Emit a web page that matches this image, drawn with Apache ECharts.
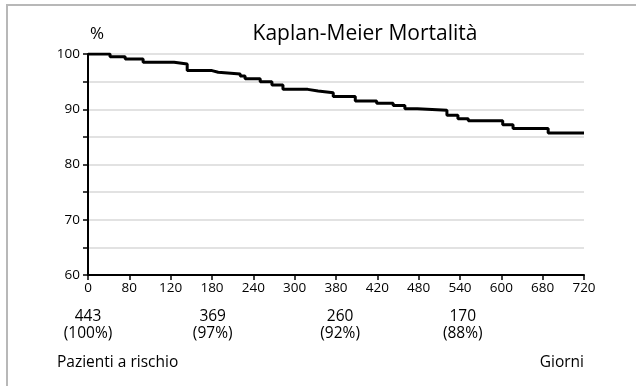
<!DOCTYPE html>
<html>
<head>
<meta charset="utf-8">
<script src="https://cdn.jsdelivr.net/npm/echarts@6/dist/echarts.min.js"></script>
<style>
html,body{margin:0;padding:0;background:#fff;}
#c{width:636px;height:386px;}
</style>
</head>
<body>
<div id="c"></div>
<script>
// Kaplan-Meier step data (day of event, survival % after event)
const kmDays = [0, 32, 54, 80, 125, 144, 180, 189, 221, 228, 250, 267, 283, 319, 334, 356, 388, 419, 443, 460, 478, 521, 537, 552, 602, 617, 668, 720];
const kmSurv = [100, 99.5, 99.1, 98.5, 98.2, 97.0, 96.7, 96.4, 96.0, 95.5, 95.0, 94.4, 93.6, 93.3, 93.0, 92.3, 91.5, 91.1, 90.7, 90.1, 89.8, 88.9, 88.3, 87.9, 87.2, 86.5, 85.7, 85.7];
// x tick labels as printed on the axis (equally spaced)
const xTickLabels = ['0', '80', '120', '180', '240', '300', '380', '420', '480', '540', '600', '680', '720'];
// patients at risk
const riskDays = [0, 181, 366, 544];
const riskCount = ['443', '369', '260', '170'];
const riskPct = ['(100%)', '(97%)', '(92%)', '(88%)'];

const FONT = '"Open Sans", "Noto Sans", sans-serif';
const chart = echarts.init(document.getElementById('c'), null, {renderer: 'canvas'});

const kmData = kmDays.map((d, i) => [d, kmSurv[i]]);
const riskData = riskDays.map((d, i) => [d, 0.5, riskCount[i], riskPct[i]]);

chart.setOption({
  animation: false,
  backgroundColor: '#fff',
  textStyle: {fontFamily: FONT},
  graphic: [
    {type: 'rect', shape: {x: 7, y: 5, width: 660, height: 420}, style: {fill: 'none', stroke: '#b8b8b8', lineWidth: 2}, silent: true},
    {type: 'text', style: {x: 365, y: 34, text: 'Kaplan-Meier Mortalità', font: '21px ' + FONT, fill: '#000', align: 'center', verticalAlign: 'middle'}},
    {type: 'text', style: {x: 97, y: 34, text: '%', font: '17px ' + FONT, fill: '#000', align: 'center', verticalAlign: 'middle'}},
    {type: 'text', style: {x: 57, y: 363, text: 'Pazienti a rischio', font: '15.5px ' + FONT, fill: '#000', align: 'left', verticalAlign: 'middle'}},
    {type: 'text', style: {x: 584, y: 363, text: 'Giorni', font: '15.5px ' + FONT, fill: '#000', align: 'right', verticalAlign: 'middle'}}
  ],
  grid: [
    {left: 88, right: 52, top: 54, bottom: 111},
    {left: 88, right: 52, top: 303, height: 45}
  ],
  xAxis: [
    {
      type: 'value', gridIndex: 0, min: 0, max: 720, interval: 60,
      axisLine: {show: true, onZero: false, lineStyle: {color: '#000', width: 2}},
      axisTick: {show: true, length: 5, lineStyle: {color: '#000', width: 1.5}},
      axisLabel: {color: '#000', fontSize: 13.5, margin: 6, fontFamily: FONT,
        formatter: v => xTickLabels[Math.round(v / 60)]},
      splitLine: {show: false}
    },
    {type: 'value', gridIndex: 1, min: 0, max: 720, show: false}
  ],
  yAxis: [
    {
      type: 'value', gridIndex: 0, min: 60, max: 100, interval: 5,
      axisLine: {show: true, lineStyle: {color: '#000', width: 2}},
      axisTick: {show: true, length: 5, lineStyle: {color: '#000', width: 1.5}},
      axisLabel: {color: '#000', fontSize: 13.5, margin: 8, fontFamily: FONT,
        formatter: v => (v % 10 === 0 ? String(v) : '')},
      splitLine: {show: true, lineStyle: {color: '#e2e2e2', width: 2}}
    },
    {type: 'value', gridIndex: 1, min: 0, max: 1, show: false}
  ],
  series: [
    {
      type: 'line', xAxisIndex: 0, yAxisIndex: 0, step: 'end',
      data: kmData, symbol: 'none',
      lineStyle: {color: '#000', width: 3}
    },
    {
      type: 'scatter', xAxisIndex: 1, yAxisIndex: 1, data: riskData,
      symbolSize: 1, itemStyle: {color: '#fff'},
      label: {show: true, position: 'inside', color: '#000', opacity: 1, textBorderWidth: 0, fontSize: 15.5, lineHeight: 17, fontFamily: FONT,
        formatter: p => p.data[2] + '\n' + p.data[3]},
      emphasis: {disabled: true}
    }
  ]
});
</script>
</body>
</html>
